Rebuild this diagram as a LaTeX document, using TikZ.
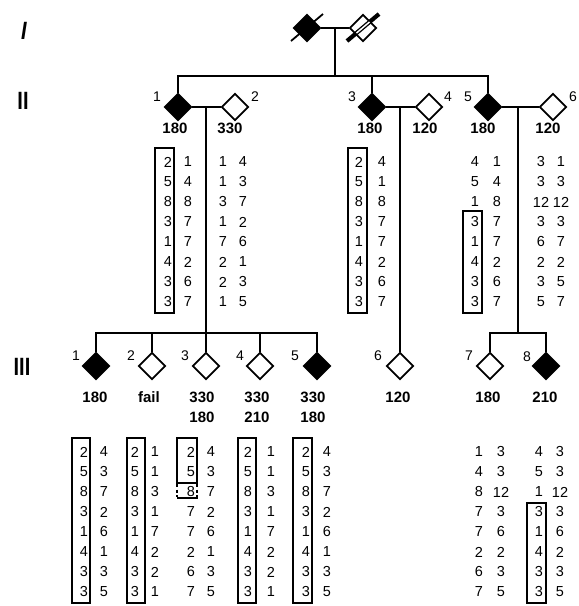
\documentclass[tikz,border=0pt]{standalone}
\usepackage{fontspec}
\setmainfont{Liberation Sans}
\usetikzlibrary{shapes.geometric}
\begin{document}
\begin{tikzpicture}[x=1pt,y=-1pt,
  aff/.style={diamond,draw,fill=black,line width=1.7pt,minimum size=27pt,inner sep=0pt},
  una/.style={diamond,draw,fill=white,line width=1.7pt,minimum size=27pt,inner sep=0pt},
  ln/.style={line width=1.7pt},
  idl/.style={font=\fontsize{14}{16}\selectfont,inner sep=0pt},
  val/.style={font=\bfseries\fontsize{15}{17}\selectfont,inner sep=0pt},
  num/.style={font=\fontsize{14.5}{16}\selectfont,inner sep=0pt},
  gbox/.style={line width=1.5pt},
  gen/.style={font=\bfseries\fontsize{25}{25}\selectfont,inner sep=0pt,xscale=0.8}]
\useasboundingbox (0,0) rectangle (579,606);
% generation labels
\node[gen] (gI) at (24,31) {\itshape I};
\node[gen] (gII) at (23,101) {II};
\node[gen] (gIII) at (22,367) {III};
% generation I
\node[aff] (I1) at (307,28) {};
\node[una] (I2) at (363,28) {};
\draw[line width=1.8pt] (I1.center) ++(-16,13) -- ++(32,-27);
\draw[line width=4.2pt] (I2.center) ++(-16,13) -- ++(32,-27);
\draw[line width=1.5pt,white] (I2.center) ++(-6.5,5) -- ++(13,-11);
\draw[ln] (I1) -- (I2);
\coordinate (Im) at (335,28);
\coordinate (IIs) at (335,76);
\draw[ln] (Im) -- (IIs);
% generation II
\node[aff] (II1) at (178,107) {};
\node[una] (II2) at (235,107) {};
\node[aff] (II3) at (372,107) {};
\node[una] (II4) at (429,107) {};
\node[aff] (II5) at (488,107) {};
\node[una] (II6) at (553,107) {};
\draw[ln] (II1.north) |- (IIs) -| (II5.north);
\draw[ln] (II3.north) -- (II3.north |- IIs);
\draw[ln] (II1) -- (II2);
\draw[ln] (II3) -- (II4);
\draw[ln] (II5) -- (II6);
\coordinate (m12) at (206,107);
\coordinate (m34) at (400,107);
\coordinate (m56) at (518,107);
\coordinate (s12) at (206,333);
\coordinate (s56) at (518,333);
% generation III
\node[aff] (III1) at (96,366) {};
\node[una] (III2) at (152,366) {};
\node[una] (III3) at (206,366) {};
\node[una] (III4) at (260,366) {};
\node[aff] (III5) at (317,366) {};
\node[una] (III6) at (400,366) {};
\node[una] (III7) at (490,366) {};
\node[aff] (III8) at (546,366) {};
\draw[ln] (m12) -- (III3.north);
\draw[ln] (III1.north) |- (s12) -| (III5.north);
\draw[ln] (III2.north) -- (III2.north |- s12);
\draw[ln] (III4.north) -- (III4.north |- s12);
\draw[ln] (m34) -- (III6.north);
\draw[ln] (m56) -- (s56);
\draw[ln] (III7.north) |- (s56) -| (III8.north);
% ids
\node[idl] (n1) at (157,97) {1};
\node[idl] (n2) at (255,97) {2};
\node[idl] (n3) at (352,97) {3};
\node[idl] (n4) at (448,97) {4};
\node[idl] (n5) at (468,97) {5};
\node[idl] (n6) at (573,97) {6};
\node[idl] (m1) at (76,356) {1};
\node[idl] (m2) at (131,356) {2};
\node[idl] (m3) at (185,356) {3};
\node[idl] (m4) at (240,356) {4};
\node[idl] (m5) at (295,356) {5};
\node[idl] (m6) at (378,356) {6};
\node[idl] (m7) at (469,356) {7};
\node[idl] (m8) at (527,357) {8};
% values
\node[val] (v1) at (175,128) {180};
\node[val] (v2) at (230,128) {330};
\node[val] (v3) at (370,128) {180};
\node[val] (v4) at (425,128) {120};
\node[val] (v5) at (483,128) {180};
\node[val] (v6) at (548,128) {120};
\node[val] (w1) at (95,397) {180};
\node[val] (w2) at (149,397) {fail};
\node[val] (w3) at (202,397) {330};
\node[val] (w3b) at (202,417) {180};
\node[val] (w4) at (257,397) {330};
\node[val] (w4b) at (257,417) {210};
\node[val] (w5) at (313,397) {330};
\node[val] (w5b) at (313,417) {180};
\node[val] (w6) at (398,397) {120};
\node[val] (w7) at (488,397) {180};
\node[val] (w8) at (545,397) {210};
% tables generation II
\foreach \v [count=\i from 0] in {2,5,8,3,1,4,3,3} \node[num] at (168,162+20*\i) {\v};
\foreach \v [count=\i from 0] in {1,4,8,7,7,2,6,7} \node[num] at (188,162+20*\i) {\v};
\foreach \v [count=\i from 0] in {1,1,3,1,7,2,2,1} \node[num] at (223,162+20*\i) {\v};
\foreach \v [count=\i from 0] in {4,3,7,2,6,1,3,5} \node[num] at (243,162+20*\i) {\v};
\foreach \v [count=\i from 0] in {2,5,8,3,1,4,3,3} \node[num] at (359,162+20*\i) {\v};
\foreach \v [count=\i from 0] in {4,1,8,7,7,2,6,7} \node[num] at (382,162+20*\i) {\v};
\foreach \v [count=\i from 0] in {4,5,1,3,1,4,3,3} \node[num] at (475,162+20*\i) {\v};
\foreach \v [count=\i from 0] in {1,4,8,7,7,2,6,7} \node[num] at (497,162+20*\i) {\v};
\foreach \v [count=\i from 0] in {3,3,12,3,6,2,3,5} \node[num] at (541,162+20*\i) {\v};
\foreach \v [count=\i from 0] in {1,3,12,3,7,2,5,7} \node[num] at (561,162+20*\i) {\v};
% tables generation III
\foreach \v [count=\i from 0] in {2,5,8,3,1,4,3,3} \node[num] at (84,452+20*\i) {\v};
\foreach \v [count=\i from 0] in {4,3,7,2,6,1,3,5} \node[num] at (104,452+20*\i) {\v};
\foreach \v [count=\i from 0] in {2,5,8,3,1,4,3,3} \node[num] at (135,452+20*\i) {\v};
\foreach \v [count=\i from 0] in {1,1,3,1,7,2,2,1} \node[num] at (155,452+20*\i) {\v};
\foreach \v [count=\i from 0] in {2,5,8,7,7,2,6,7} \node[num] at (191,452+20*\i) {\v};
\foreach \v [count=\i from 0] in {4,3,7,2,6,1,3,5} \node[num] at (211,452+20*\i) {\v};
\foreach \v [count=\i from 0] in {2,5,8,3,1,4,3,3} \node[num] at (248,452+20*\i) {\v};
\foreach \v [count=\i from 0] in {1,1,3,1,7,2,2,1} \node[num] at (271,452+20*\i) {\v};
\foreach \v [count=\i from 0] in {2,5,8,3,1,4,3,3} \node[num] at (306,452+20*\i) {\v};
\foreach \v [count=\i from 0] in {4,3,7,2,6,1,3,5} \node[num] at (327,452+20*\i) {\v};
\foreach \v [count=\i from 0] in {1,4,8,7,7,2,6,7} \node[num] at (479,452+20*\i) {\v};
\foreach \v [count=\i from 0] in {3,3,12,3,6,2,3,5} \node[num] at (501,452+20*\i) {\v};
\foreach \v [count=\i from 0] in {4,5,1,3,1,4,3,3} \node[num] at (539,452+20*\i) {\v};
\foreach \v [count=\i from 0] in {3,3,12,3,6,2,3,5} \node[num] at (560,452+20*\i) {\v};
% haplotype boxes
\draw[gbox] (155,148) rectangle (174,313);
\draw[gbox] (348,148) rectangle (367,313);
\draw[gbox] (463,211) rectangle (482,313);
\draw[gbox] (72,438) rectangle (90,603);
\draw[gbox] (127,438) rectangle (145,603);
\draw[gbox] (177,438) rectangle (197,483);
\draw[gbox,dash pattern=on 3pt off 2.5pt] (177,484) -- (177,497) (197,484) -- (197,497);
\draw[gbox] (177,498) -- (198,498);
\draw[gbox] (238,438) rectangle (256,603);
\draw[gbox] (293,438) rectangle (312,603);
\draw[gbox] (527,503) rectangle (546,603);
\end{tikzpicture}
\end{document}
